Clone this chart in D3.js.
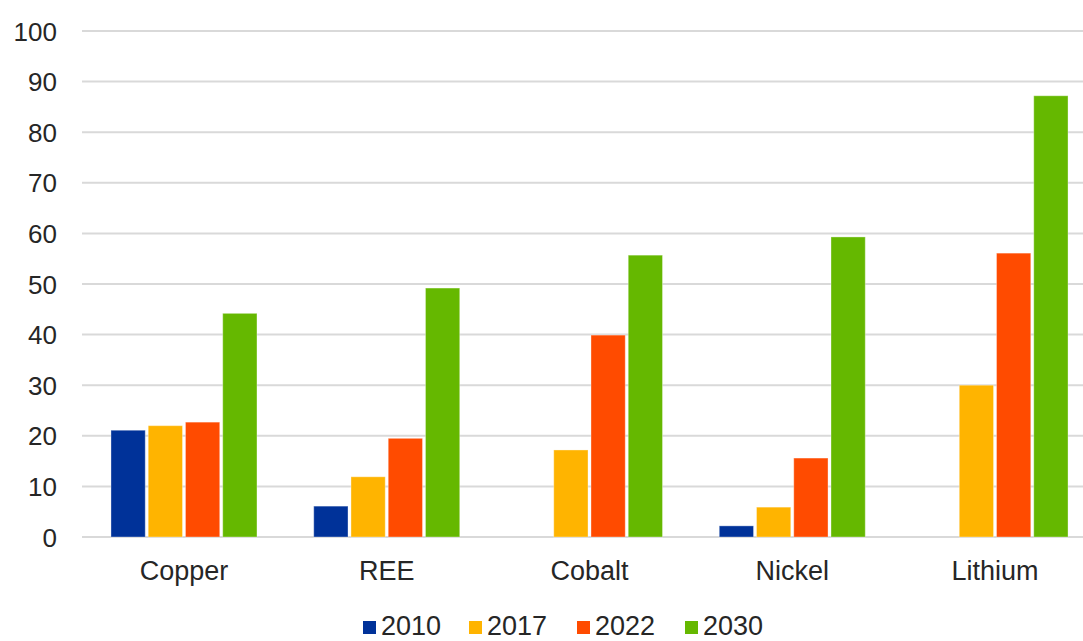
<!DOCTYPE html>
<html>
<head>
<meta charset="utf-8">
<script src="https://cdn.jsdelivr.net/npm/d3@7"></script>
<style>
  body { margin: 0; background: #fff; }
  svg { display: block; font-family: "Liberation Sans", Arial, sans-serif; }
</style>
</head>
<body>
<svg id="chart" width="1083" height="641"></svg>
<script>
const categories = ["Copper", "REE", "Cobalt", "Nickel", "Lithium"];
const seriesNames = ["2010", "2017", "2022", "2030"];
const values2010 = [21.1, 6.1, null, 2.2, null];
const values2017 = [22.0, 11.9, 17.2, 5.9, 30.0];
const values2022 = [22.7, 19.5, 39.9, 15.6, 56.1];
const values2030 = [44.2, 49.2, 55.7, 59.3, 87.2];
const seriesColors = ["#003299", "#FFB400", "#FF4B00", "#65B800"];
const yTicks = [0, 10, 20, 30, 40, 50, 60, 70, 80, 90, 100];

const seriesValues = [values2010, values2017, values2022, values2030];

const svg = d3.select("#chart");
const W = 1083, H = 641;
svg.append("rect").attr("width", W).attr("height", H).attr("fill", "#fff");

const y = d3.scaleLinear().domain([0, 100]).range([537, 31]);
const x0 = d3.scaleBand().domain(categories).range([82.6, 1096.4]).padding(0);
const x1 = d3.scaleBand().domain(seriesNames)
  .range([x0.bandwidth() / 2 - 73, x0.bandwidth() / 2 + 73])
  .paddingInner(0.08);

// gridlines
svg.append("g").selectAll("line").data(yTicks).join("line")
  .attr("x1", 82).attr("x2", W)
  .attr("y1", d => y(d)).attr("y2", d => y(d))
  .attr("stroke", "#d9d9d9").attr("stroke-width", 2);

// y axis labels
const yAxis = d3.axisLeft(y).tickValues(yTicks).tickSize(0).tickPadding(0);
const gy = svg.append("g").attr("transform", "translate(57,0)").call(yAxis);
gy.select(".domain").remove();
gy.selectAll("text").attr("font-size", 26).attr("fill", "#262626")
  .attr("font-family", "'Liberation Sans', Arial, sans-serif").attr("dy", "0.35em");

// bars
const groups = svg.append("g").selectAll("g").data(categories).join("g")
  .attr("transform", d => `translate(${x0(d)},0)`);
groups.selectAll("rect")
  .data((c, ci) => seriesNames.map((s, si) => ({ s, si, v: seriesValues[si][ci] })).filter(d => d.v != null))
  .join("rect")
  .attr("x", d => x1(d.s))
  .attr("width", x1.bandwidth())
  .attr("y", d => y(d.v))
  .attr("height", d => y(0) - y(d.v))
  .attr("fill", d => seriesColors[d.si])
  .attr("stroke", "rgba(255,255,255,0.35)")
  .attr("stroke-width", 1);

// x axis labels
const xAxis = d3.axisBottom(x0).tickSize(0).tickPadding(0);
const gx = svg.append("g").attr("transform", "translate(0,580)").call(xAxis);
gx.select(".domain").remove();
gx.selectAll("text").attr("font-size", 27).attr("fill", "#262626")
  .attr("font-family", "'Liberation Sans', Arial, sans-serif").attr("dy", 0).attr("y", 0);

// legend
const legendX = [363, 469, 577, 685];
const legend = svg.append("g").selectAll("g").data(seriesNames).join("g")
  .attr("transform", (d, i) => `translate(${legendX[i]},0)`);
legend.append("rect").attr("x", 0).attr("y", 621).attr("width", 13).attr("height", 13)
  .attr("fill", (d, i) => seriesColors[i]);
legend.append("text").attr("x", 18).attr("y", 635).text(d => d)
  .attr("font-size", 27).attr("fill", "#262626");
</script>
</body>
</html>
